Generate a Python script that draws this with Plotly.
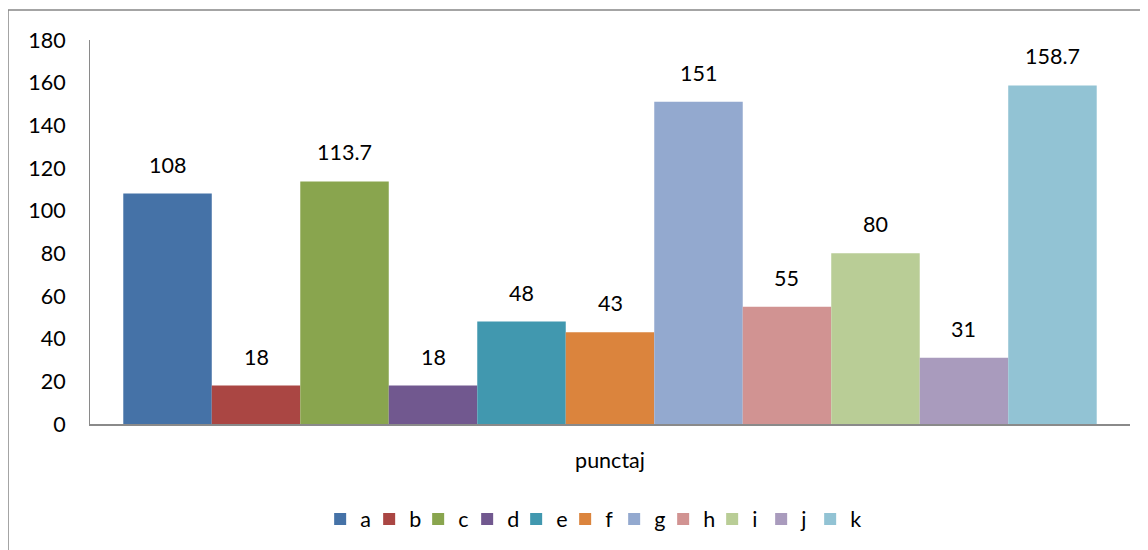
import plotly.graph_objects as go

series = ["a", "b", "c", "d", "e", "f", "g", "h", "i", "j", "k"]
values = [108, 18, 113.7, 18, 48, 43, 151, 55, 80, 31, 158.7]
labels = ["108", "18", "113.7", "18", "48", "43", "151", "55", "80", "31", "158.7"]
category = "punctaj"
colors = ["#4572A7", "#AA4643", "#89A54E", "#71588F", "#4198AF", "#DB843D",
          "#93A9CF", "#D19392", "#B9CD96", "#A99BBD", "#92C3D4"]
yticks = [0, 20, 40, 60, 80, 100, 120, 140, 160, 180]

FONT = "Lato"
FS = 21.5
bargap = 0.064

fig = go.Figure()
for s, v, c in zip(series, values, colors):
    fig.add_trace(go.Bar(name=s, x=[category], y=[v], marker=dict(color=c, line=dict(width=0))))

# invisible spacer legend entry so the last label is not clipped
fig.add_trace(go.Scatter(x=[None], y=[None], mode="markers", name=" ",
                         marker=dict(color="rgba(0,0,0,0)"), hoverinfo="skip"))

n = len(series)
w = (1 - bargap) / n
for i, (v, t) in enumerate(zip(values, labels)):
    fig.add_annotation(x=(i - (n - 1) / 2) * w, y=v, xref="x", yref="y", text=t,
                       showarrow=False, yanchor="middle", yshift=29,
                       font=dict(family=FONT, size=FS, color="#000000"))

fig.add_shape(type="rect", xref="paper", yref="paper", x0=(0 - 82) / 1040, x1=1.2,
              y0=-0.6, y1=(417 - 2) / 385, line=dict(color="#868686", width=1.5),
              fillcolor="rgba(0,0,0,0)", layer="below")

fig.update_layout(
    width=1140, height=542,
    margin=dict(l=82, r=18, t=32, b=125),
    paper_bgcolor="white", plot_bgcolor="white",
    barmode="group", bargap=bargap, bargroupgap=0,
    font=dict(family=FONT, size=FS, color="#000000"),
    showlegend=True,
    legend=dict(orientation="h", x=0.504, xanchor="center", y=(425 - 519) / 385, yanchor="middle",
                font=dict(family=FONT, size=FS), itemwidth=30, traceorder="normal",
                entrywidth=4, entrywidthmode="pixels"),
    xaxis=dict(showline=True, linecolor="#8a8a8a", linewidth=1.5, ticks="", showgrid=False,
               ticklabelstandoff=16, tickfont=dict(family=FONT, size=FS)),
    yaxis=dict(range=[0, 180], tickvals=yticks, showline=True, linecolor="#8a8a8a", linewidth=1,
               ticks="", showgrid=False, zeroline=False, ticklabelstandoff=19,
               tickfont=dict(family=FONT, size=FS)),
)

fig.write_html("out.html")
